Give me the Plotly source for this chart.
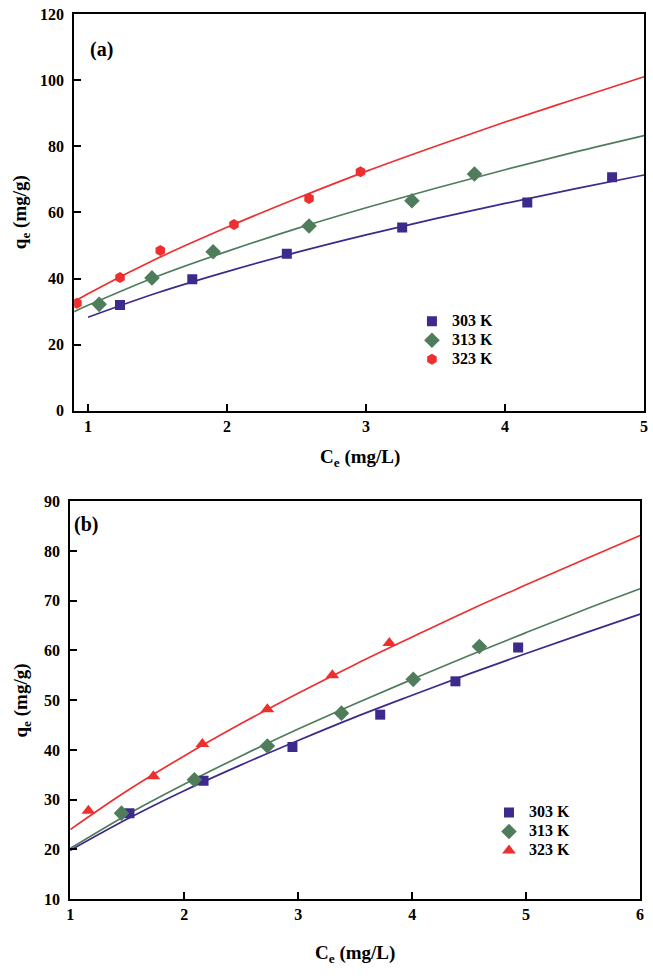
import plotly.graph_objects as go

# ---------------- data: panel (a) ----------------
temps = ["303 K", "313 K", "323 K"]

a_x_303 = [1.23, 1.75, 2.43, 3.26, 4.16, 4.77]
a_y_303 = [32.0, 39.8, 47.5, 55.4, 63.0, 70.6]
a_x_313 = [1.08, 1.46, 1.90, 2.59, 3.33, 3.78]
a_y_313 = [32.2, 40.2, 48.1, 55.9, 63.5, 71.6]
a_x_323 = [0.92, 1.23, 1.52, 2.05, 2.59, 2.96]
a_y_323 = [32.5, 40.3, 48.5, 56.3, 64.2, 72.3]

# fitted curves
a_fit_x_303 = [1.0, 1.5, 2.0, 2.5, 3.0, 3.5, 4.0, 4.5, 5.0]
a_fit_y_303 = [28.3, 35.7, 42.1, 47.9, 53.2, 58.1, 62.7, 67.1, 71.3]
a_fit_x_313 = [0.9, 1.0, 1.5, 2.0, 2.5, 3.0, 3.5, 4.0, 4.5, 5.0]
a_fit_y_313 = [30.0, 31.9, 40.7, 48.2, 55.1, 61.4, 67.3, 72.9, 78.2, 83.2]
a_fit_x_323 = [0.9, 1.0, 1.5, 2.0, 2.5, 3.0, 3.5, 4.0, 4.5, 5.0]
a_fit_y_323 = [33.0, 35.4, 46.1, 55.5, 64.2, 72.4, 80.0, 87.3, 94.2, 101.0]

# ---------------- data: panel (b) ----------------
b_x_303 = [1.52, 2.17, 2.95, 3.72, 4.38, 4.93]
b_y_303 = [27.3, 33.8, 40.6, 47.1, 53.8, 60.6]
b_x_313 = [1.45, 2.09, 2.73, 3.38, 4.01, 4.59]
b_y_313 = [27.3, 34.0, 40.8, 47.4, 54.2, 60.8]
b_x_323 = [1.16, 1.73, 2.16, 2.73, 3.30, 3.80]
b_y_323 = [27.8, 34.7, 41.2, 48.2, 55.0, 61.5]

b_fit_x = [1.0, 1.5, 2.0, 2.5, 3.0, 3.5, 4.0, 4.5, 5.0, 5.5, 6.0]
b_fit_y_303 = [19.8, 26.1, 31.8, 37.0, 41.9, 46.6, 51.0, 55.3, 59.4, 63.4, 67.3]
b_fit_y_313 = [20.2, 27.0, 33.1, 38.8, 44.2, 49.3, 54.2, 59.0, 63.6, 68.1, 72.4]
b_fit_y_323 = [24.0, 31.8, 38.8, 45.3, 51.4, 57.2, 62.7, 68.1, 73.2, 78.2, 83.1]

a_xticks = [1, 2, 3, 4, 5]
a_yticks = [0, 20, 40, 60, 80, 100, 120]
b_xticks = [1, 2, 3, 4, 5, 6]
b_yticks = [10, 20, 30, 40, 50, 60, 70, 80, 90]

# ---------------- styles ----------------
C_PUR = "#3d2a8c"
C_GRN = "#4f7d5c"
C_RED = "#ee2f2f"
FONT = "Liberation Serif"
W, H = 653, 976

fig = go.Figure()

def add_panel(xa, ya, legend, pts, fits, symbols, sizes):
    cols = [C_PUR, C_GRN, C_RED]
    for (fx, fy), c in zip(fits, cols):
        fig.add_trace(go.Scatter(x=fx, y=fy, mode="lines", line=dict(color=c, width=1.7, shape="spline"),
                                 showlegend=False, xaxis=xa, yaxis=ya, hoverinfo="skip"))
    for (px, py), c, s, sz, name in zip(pts, cols, symbols, sizes, temps):
        fig.add_trace(go.Scatter(x=px, y=py, mode="markers",
                                 name='<span style="font-size:16px">' + name + "</span>",
                                 marker=dict(color=c, symbol=s, size=sz, line=dict(width=0)),
                                 xaxis=xa, yaxis=ya, legend=legend))

add_panel("x", "y", "legend",
          [(a_x_303, a_y_303), (a_x_313, a_y_313), (a_x_323, a_y_323)],
          [(a_fit_x_303, a_fit_y_303), (a_fit_x_313, a_fit_y_313), (a_fit_x_323, a_fit_y_323)],
          ["square", "diamond", "hexagon"], [10, 12, 11])
add_panel("x2", "y2", "legend2",
          [(b_x_303, b_y_303), (b_x_313, b_y_313), (b_x_323, b_y_323)],
          [(b_fit_x, b_fit_y_303), (b_fit_x, b_fit_y_313), (b_fit_x, b_fit_y_323)],
          ["square", "diamond", "triangle-up"], [10, 12, 12])

tickfont = dict(family=FONT, size=16, color="black", weight="bold")
axcommon = dict(showline=True, linecolor="black", linewidth=2, mirror=True, ticks="inside",
                ticklen=7, tickwidth=2, tickcolor="black", showgrid=False, zeroline=False,
                tickfont=tickfont)

legfont = dict(family=FONT, size=12, color="black", weight="bold")
fig.update_layout(
    width=W, height=H, margin=dict(l=0, r=0, t=0, b=0),
    paper_bgcolor="white", plot_bgcolor="white",
    showlegend=True,
    xaxis=dict(domain=[71 / W, 648 / W], range=[0.9, 5], tickvals=a_xticks, anchor="y", **axcommon),
    yaxis=dict(domain=[1 - 410 / H, 1 - 6 / H], range=[0, 120], tickvals=a_yticks, anchor="x",
               ticklabelstandoff=5, **axcommon),
    xaxis2=dict(domain=[67 / W, 644 / W], range=[1, 6], tickvals=b_xticks, anchor="y2", **axcommon),
    yaxis2=dict(domain=[1 - 907 / H, 1 - 502 / H], range=[10, 90], tickvals=b_yticks, anchor="x2",
                ticklabelstandoff=5, **axcommon),
    legend=dict(x=413 / W, y=1 - 304 / H, xanchor="left", yanchor="top", bgcolor="rgba(0,0,0,0)",
                font=legfont, tracegroupgap=0, itemsizing="trace"),
    legend2=dict(x=491 / W, y=1 - 804 / H, xanchor="left", yanchor="top", bgcolor="rgba(0,0,0,0)",
                 font=legfont, tracegroupgap=0, itemsizing="trace"),
)

afont = dict(family=FONT, size=20, color="black", weight="bold")
fig.add_annotation(text="(a)", xref="paper", yref="paper", x=85 / W, y=1 - 42 / H,
                   xanchor="left", yanchor="middle", showarrow=False, font=afont)
fig.add_annotation(text="(b)", xref="paper", yref="paper", x=69 / W, y=1 - 526 / H,
                   xanchor="left", yanchor="middle", showarrow=False, font=afont)
tfont = dict(family=FONT, size=19, color="black", weight="bold")
fig.add_annotation(text="C<sub>e</sub> (mg/L)", xref="paper", yref="paper", x=360 / W, y=1 - 458 / H,
                   xanchor="center", yanchor="middle", showarrow=False, font=tfont)
fig.add_annotation(text="C<sub>e</sub> (mg/L)", xref="paper", yref="paper", x=355 / W, y=1 - 963 / H,
                   xanchor="center", yanchor="middle", showarrow=False, font=tfont)
fig.add_annotation(text="q<sub>e</sub> (mg/g)", xref="paper", yref="paper", x=18 / W, y=1 - 208 / H,
                   xanchor="center", yanchor="middle", showarrow=False, font=tfont, textangle=-90)
fig.add_annotation(text="q<sub>e</sub> (mg/g)", xref="paper", yref="paper", x=18 / W, y=1 - 705 / H,
                   xanchor="center", yanchor="middle", showarrow=False, font=tfont, textangle=-90)

fig.write_html("out.html", config={"displayModeBar": False},
               post_script="document.body.style.margin='0';document.body.style.overflow='hidden';")
